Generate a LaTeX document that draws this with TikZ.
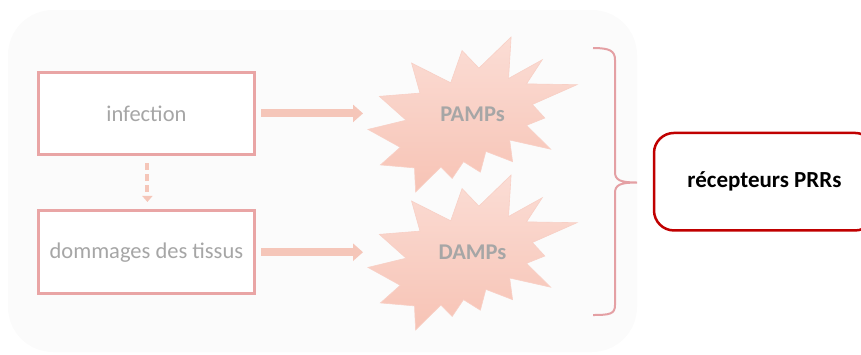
\documentclass[tikz,border=0pt]{standalone}
\usepackage{fontspec}
\setmainfont{Carlito}
\usetikzlibrary{arrows.meta,calc}
\definecolor{panel}{HTML}{FBFBFB}
\definecolor{boxline}{HTML}{E9A5A5}
\definecolor{textg}{HTML}{A6A6A6}
\definecolor{flow}{HTML}{F5C6B9}
\definecolor{startop}{HTML}{FBDDD5}
\definecolor{starbot}{HTML}{F7C3B5}
\definecolor{starline}{HTML}{F8D0C6}
\definecolor{bracel}{HTML}{E4A0A4}
\definecolor{prr}{HTML}{C00000}

\begin{document}
\begin{tikzpicture}[x=1pt,y=-1pt,
		cause/.style={draw=boxline,line width=3pt,fill=white,minimum width=216.5pt,minimum height=82.5pt,inner sep=0pt,text=textg,font=\fontsize{22.5}{27}\selectfont},
		burst/.style={minimum width=209pt,minimum height=155pt,inner sep=0pt,outer sep=0pt,text=textg,font=\fontsize{22.5}{27}\selectfont\bfseries},
		flowarrow/.style={draw=flow,line width=8pt,-{Triangle[length=10pt,width=17pt]},shorten <=5pt,shorten >=5pt},
		prrbox/.style={draw=prr,line width=2.5pt,rounded corners=20pt,fill=white,minimum width=221pt,minimum height=97.5pt,font=\fontsize{23}{28}\selectfont\bfseries}]
		\useasboundingbox (0,0) rectangle (861,354);
		%
		%panel
		\fill[panel,rounded corners=45pt] (8,10) rectangle (637,352);
		%
		%explosions
		\coordinate (pampsC) at (472.5,114.5);
		\coordinate (dampsC) at (472.5,252.5);
		\foreach \c in {pampsC,dampsC}{
			\begin{scope}[shift={($(\c)+(-104.5,-77.5)$)},xscale=0.9676,yscale=0.7176]
				\shade[top color=startop,bottom color=starbot,draw=starline,line width=0.6pt] plot coordinates {(114.62,43.42) (147.90,0) (145.25,57.77) (180.07,31.72) (163.80,65.32) (216,66.45) (169.85,94.02) (182.70,112.90) (163.80,123.10) (188.77,156.32) (146.40,143.50) (149.42,173.70) (121.80,159.35) (116.12,188.42) (98.72,173.70) (87.00,197.12) (75.27,181.25) (49.17,216) (48.05,182.40) (12.85,178.25) (33.30,153.70) (0,128.77) (39.35,115.92) (11.72,82.70) (53.72,78.17) (45.02,36.25) (85.50,63.82) (97.22,18.87)} -- cycle;
			\end{scope}
		}
		\node[burst] (pamps) at (pampsC) {PAMPs};
		\node[burst] (damps) at (dampsC) {DAMPs};
		%
		%causes
		\node[cause] (infection) at (146.4,113.4) {infection};
		\node[cause] (dommages) at (146.4,252.2) {dommages des tissus};
		\draw[flowarrow] (infection.east) -- (infection.east -| pamps.west);
		\draw[flowarrow] (dommages.east) -- (dommages.east -| damps.west);
		\draw[draw=flow,line width=4pt,dash pattern=on 6.5pt off 4.5pt,-{Triangle[length=6pt,width=10pt]},shorten <=7pt,shorten >=7.5pt] ([xshift=1pt]infection.south) -- ([xshift=1pt]dommages.north);
		%
		% brace
		\coordinate (bt) at (593,48);
		\coordinate (bb) at (593,315);
		\coordinate (bk) at (637,182.5);
		\draw[bracel,line width=2pt] (bt) .. controls (610,48) and (615,51) .. (615,60) -- (615,172) .. controls (615,180) and (620,182.5) .. (bk) .. controls (620,182.5) and (615,185) .. (615,193) -- (615,305) .. controls (615,314) and (610,315) .. (bb);
		%
		\node[prrbox] (prr) at (764.5,181.7) {récepteurs PRRs};
	\end{tikzpicture}
\end{document}
